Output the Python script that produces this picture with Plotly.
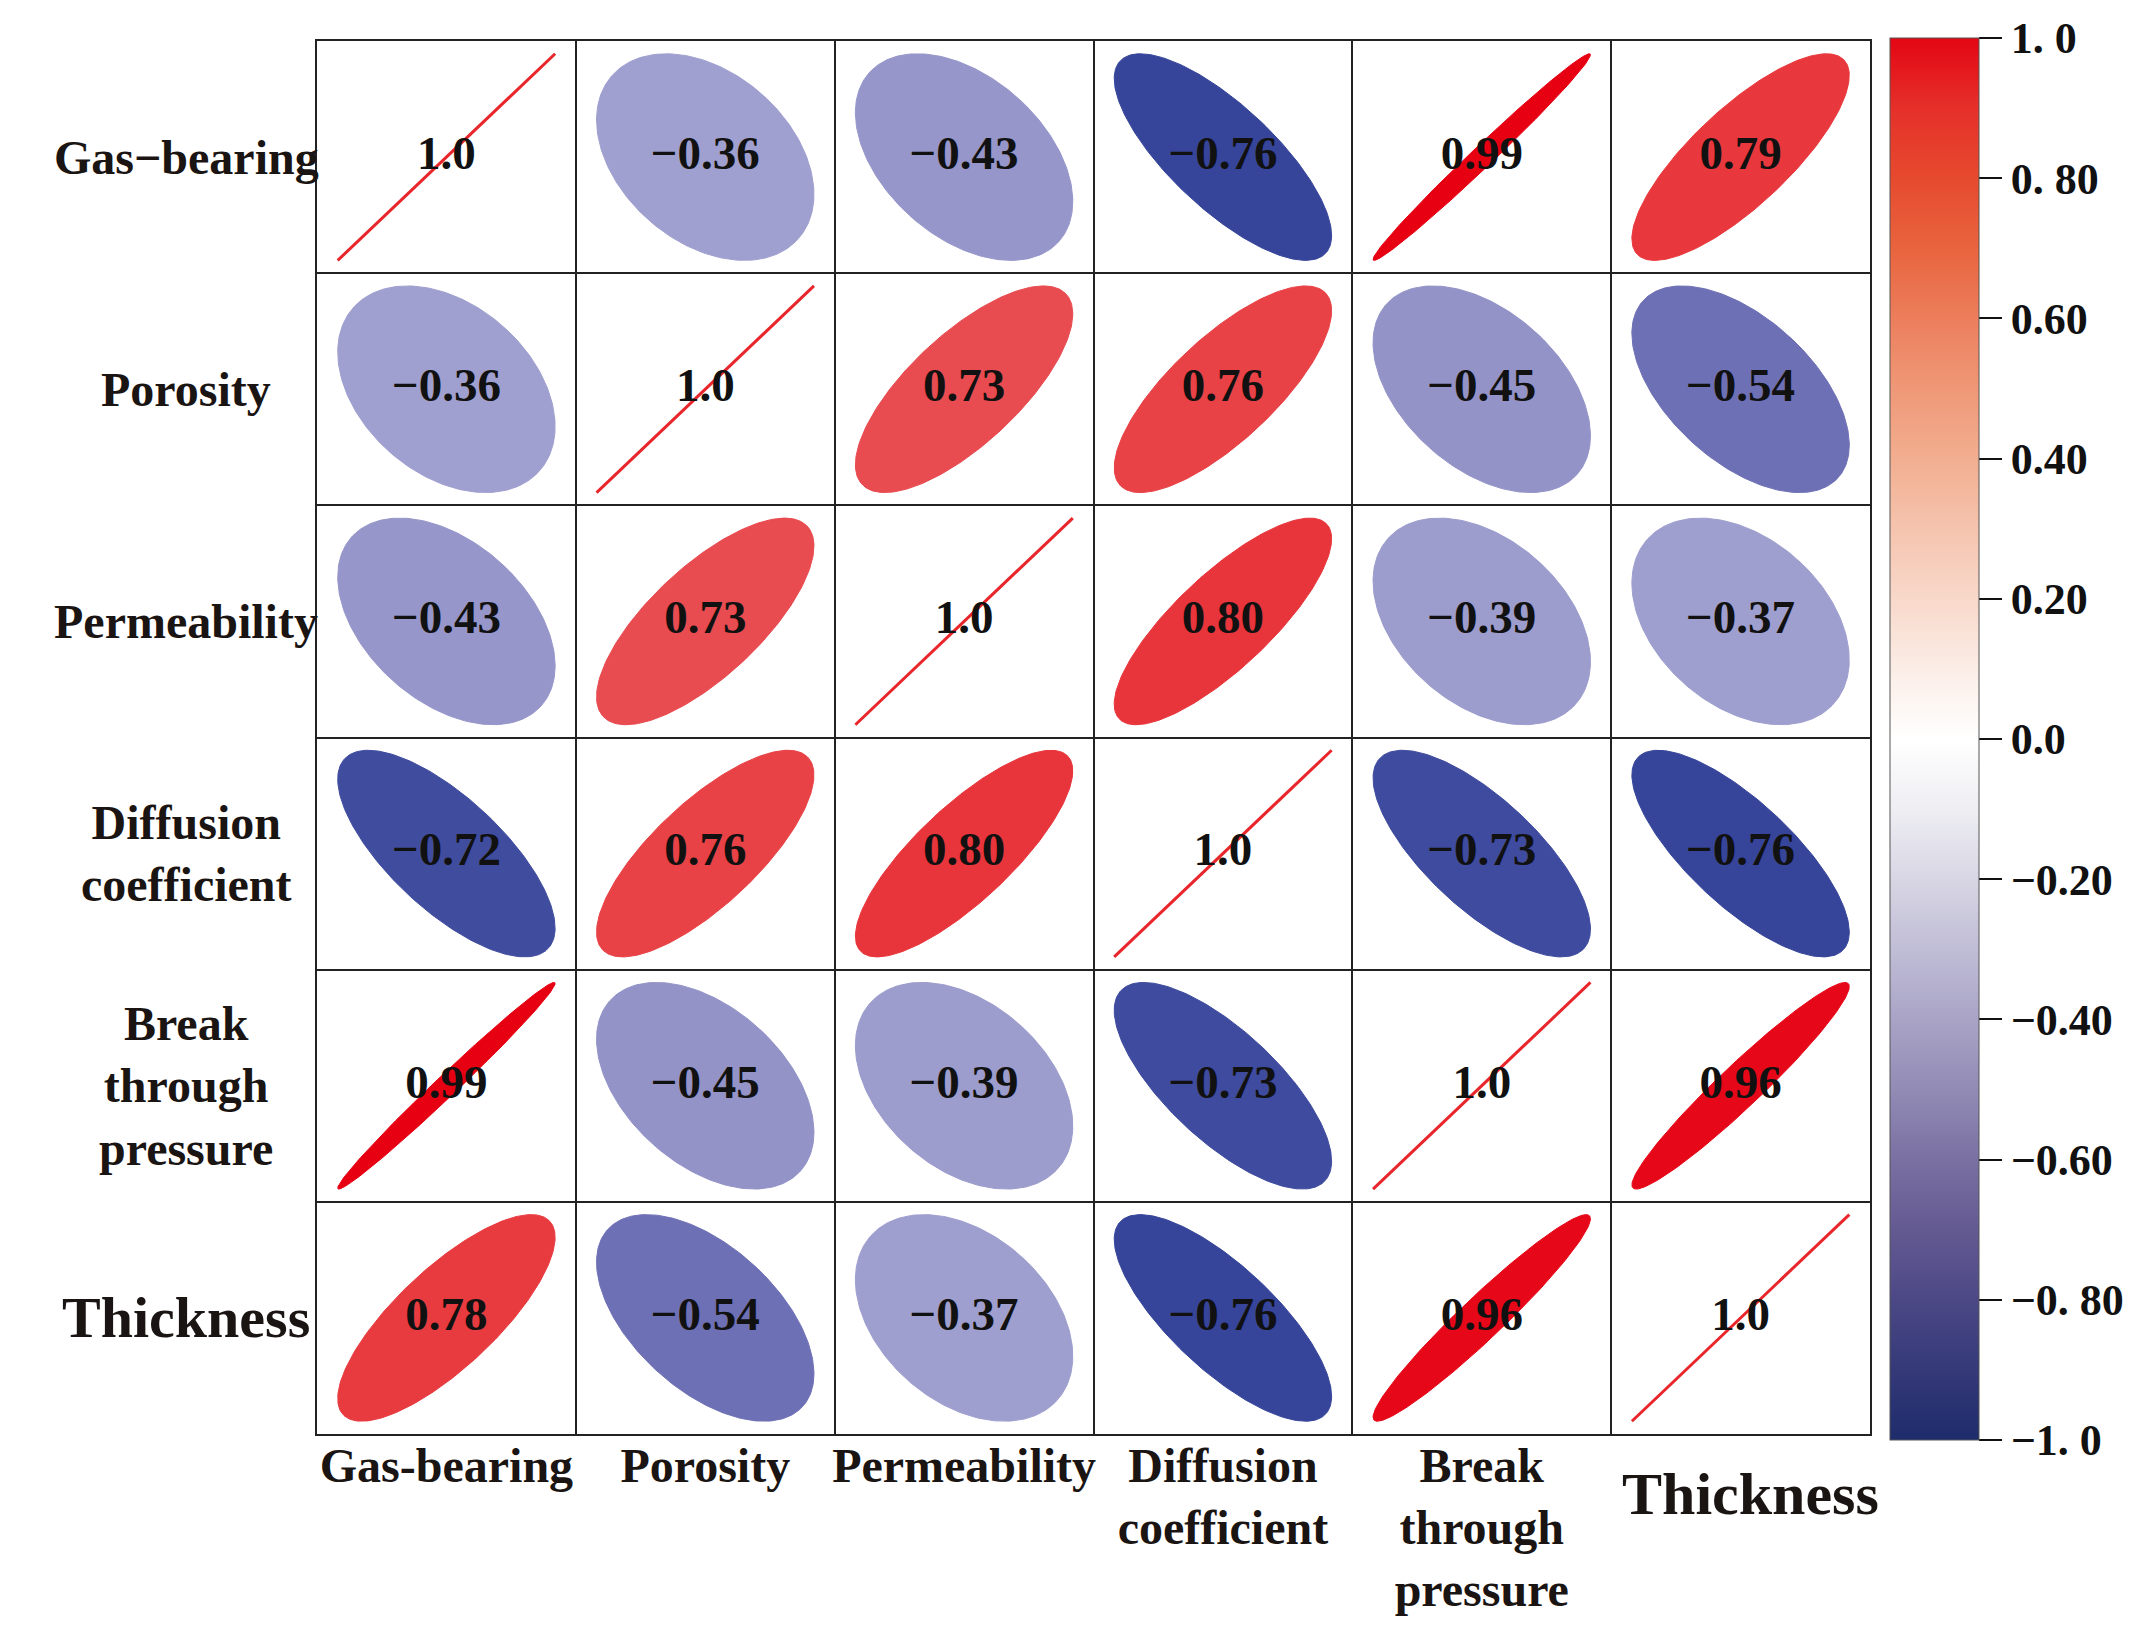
import numpy as np
import plotly.graph_objects as go
from plotly.colors import sample_colorscale

# ---------------- data ----------------
col_labels = ["Gas-bearing", "Porosity", "Permeability",
              "Diffusion<br>coefficient", "Break<br>through<br>pressure", "Thickness"]
row_labels = ["Gas\u2212bearing", "Porosity", "Permeability",
              "Diffusion<br>coefficient", "Break<br>through<br>pressure", "Thickness"]

corr = [
    [1.0, -0.36, -0.43, -0.76, 0.99, 0.79],
    [-0.36, 1.0, 0.73, 0.76, -0.45, -0.54],
    [-0.43, 0.73, 1.0, 0.80, -0.39, -0.37],
    [-0.72, 0.76, 0.80, 1.0, -0.73, -0.76],
    [0.99, -0.45, -0.39, -0.73, 1.0, 0.96],
    [0.78, -0.54, -0.37, -0.76, 0.96, 1.0],
]
cell_text = [
    ["1.0", "\u22120.36", "\u22120.43", "\u22120.76", "0.99", "0.79"],
    ["\u22120.36", "1.0", "0.73", "0.76", "\u22120.45", "\u22120.54"],
    ["\u22120.43", "0.73", "1.0", "0.80", "\u22120.39", "\u22120.37"],
    ["\u22120.72", "0.76", "0.80", "1.0", "\u22120.73", "\u22120.76"],
    ["0.99", "\u22120.45", "\u22120.39", "\u22120.73", "1.0", "0.96"],
    ["0.78", "\u22120.54", "\u22120.37", "\u22120.76", "0.96", "1.0"],
]

cbar_tickvals = [1.0, 0.8, 0.6, 0.4, 0.2, 0.0, -0.2, -0.4, -0.6, -0.8, -1.0]
cbar_ticktext = ["1. 0", "0. 80", "0.60", "0.40", "0.20", "0.0",
                 "\u22120.20", "\u22120.40", "\u22120.60", "\u22120. 80", "\u22121. 0"]

# ---------------- styles ----------------
ellipse_scale = [
    [0.0, "#1B2A6B"], [0.12, "#36459A"], [0.23, "#6E70B5"], [0.275, "#9393C8"],
    [0.32, "#A0A0D0"], [0.5, "#FFFFFF"], [0.865, "#E84B50"], [0.895, "#E8383D"],
    [0.995, "#E60012"], [1.0, "#E50012"],
]
bar_scale = [
    [0.00, "#1E2C6C"], [0.05, "#353978"], [0.10, "#4C4886"], [0.15, "#645A92"],
    [0.20, "#7A70A2"], [0.25, "#928BB5"], [0.30, "#A9A4C6"], [0.35, "#C0BDD6"],
    [0.40, "#D8D6E4"], [0.45, "#EEEEF3"], [0.50, "#FFFFFF"], [0.55, "#FBEDE6"],
    [0.60, "#F8D8CA"], [0.65, "#F5C4AE"], [0.70, "#F2AE90"], [0.75, "#EF9877"],
    [0.80, "#EC7E5C"], [0.85, "#E8643E"], [0.90, "#E64A2E"], [0.95, "#E5302A"],
    [1.00, "#E30613"],
]
FONT = "Liberation Serif"
W, H = 2120, 1633
L, T = 309, 33
PW, PH = 1553, 1393
R, B = W - L - PW, H - T - PH

n = len(corr)
tt = np.linspace(0, 2 * np.pi, 241)
fig = go.Figure()

for i in range(n):
    for j in range(n):
        r = corr[i][j]
        cx, cy = j + 0.5, n - 0.5 - i
        d = np.arccos(np.clip(r, -1, 1))
        ex = cx + 0.42 * np.cos(tt + d / 2)
        ey = cy + 0.445 * np.cos(tt - d / 2)
        if i == j:
            fig.add_trace(go.Scatter(x=ex, y=ey, mode="lines",
                                     line=dict(color="#E8262B", width=3),
                                     hoverinfo="skip", showlegend=False))
        else:
            col = sample_colorscale(ellipse_scale, [(r + 1) / 2])[0]
            fig.add_trace(go.Scatter(x=ex, y=ey, mode="lines", fill="toself",
                                     fillcolor=col, line=dict(color=col, width=1),
                                     hoverinfo="skip", showlegend=False))

xs, ys, txt, vals = [], [], [], []
for i in range(n):
    for j in range(n):
        xs.append(j + 0.5)
        ys.append(n - 0.5 - i)
        txt.append(cell_text[i][j])
        vals.append(corr[i][j])

fig.add_trace(go.Scatter(
    x=xs, y=ys, mode="markers+text", text=txt,
    textfont=dict(family=FONT, size=47, color="#111111", weight="bold"),
    textposition="middle center",
    marker=dict(size=1, opacity=0, color=vals, cmin=-1, cmax=1,
                colorscale=bar_scale, showscale=True,
                colorbar=dict(
                    xref="paper", x=(1882 - L) / PW, xanchor="left", xpad=0,
                    yref="paper", y=(T + PH - 30) / PH, yanchor="top", ypad=0,
                    lenmode="pixels", len=1402,
                    thicknessmode="pixels", thickness=89,
                    outlinewidth=1, outlinecolor="#555555",
                    tickmode="array", tickvals=cbar_tickvals, ticktext=cbar_ticktext,
                    ticks="outside", ticklen=23, tickwidth=2, tickcolor="#111111",
                    tickfont=dict(family=FONT, size=44, color="#111111", weight="bold"),
                )),
    hoverinfo="skip", showlegend=False))

# x tick labels; the larger, lower "Thickness" is placed as an annotation
x_ticktext = [c if c != "Thickness" else "" for c in col_labels]

centers = [k + 0.5 for k in range(n)]
fig.update_xaxes(
    range=[0, n], tickmode="array", tickvals=centers,
    ticktext=x_ticktext, ticks="", showgrid=False, zeroline=False,
    ticklabelstandoff=-12,
    tickfont=dict(family=FONT, size=48, color="#1a1412", weight="bold"),
    showline=True, mirror=True, linecolor="#222222", linewidth=2,
    minor=dict(tick0=0, dtick=1, showgrid=True, gridcolor="#222222", gridwidth=2, ticks=""),
)
fig.update_yaxes(
    range=[0, n], tickmode="array", tickvals=centers,
    showticklabels=False, ticks="", showgrid=False, zeroline=False,
    showline=True, mirror=True, linecolor="#222222", linewidth=2,
    minor=dict(tick0=0, dtick=1, showgrid=True, gridcolor="#222222", gridwidth=2, ticks=""),
)

for k, c in enumerate(col_labels):
    if c == "Thickness":
        fig.add_annotation(
            x=k + 0.5, xref="x", xanchor="center", xshift=10,
            y=(T + PH - 1486) / PH, yref="paper", yanchor="middle",
            text=c, showarrow=False,
            font=dict(family=FONT, size=60, color="#1a1412", weight="bold"),
        )

# row labels
for i, lab in enumerate(row_labels):
    size = 58 if lab == "Thickness" else 48
    fig.add_annotation(
        x=(178 - L) / PW, xref="paper", xanchor="center",
        y=n - 0.5 - i, yref="y", yanchor="middle",
        text=lab, showarrow=False, align="center",
        font=dict(family=FONT, size=size, color="#1a1412", weight="bold"),
    )

fig.update_layout(
    width=W, height=H, margin=dict(l=L, r=R, t=T, b=B, autoexpand=False),
    plot_bgcolor="white", paper_bgcolor="white",
)

fig.write_html("out.html")
